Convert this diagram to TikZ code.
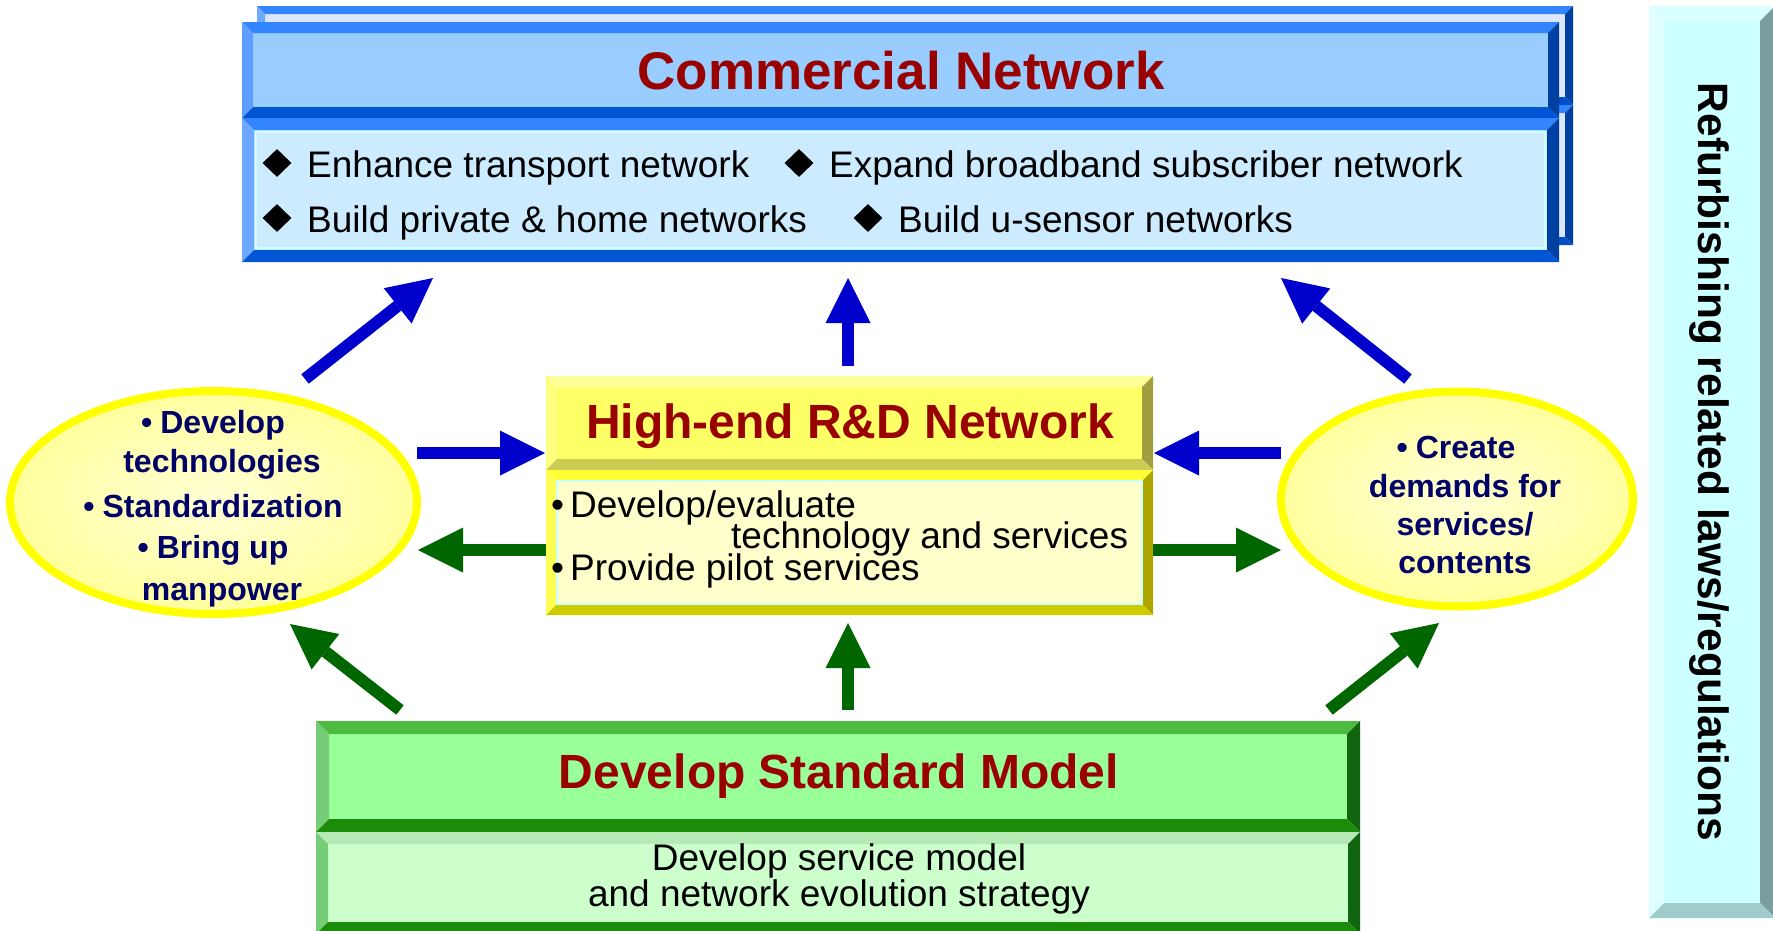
\documentclass[tikz,border=0pt]{standalone}
\usepackage{fontspec}
\setmainfont{Liberation Sans}
\usetikzlibrary{arrows.meta,shapes.geometric}
% blue box (back)
\definecolor{bkF}{HTML}{DDE6FF}\definecolor{bkT}{HTML}{3385FF}\definecolor{bkL}{HTML}{6FA8FF}\definecolor{bkR}{HTML}{0040A0}\definecolor{bkB}{HTML}{0050C8}
% blue header
\definecolor{chF}{HTML}{99CCFF}\definecolor{chT}{HTML}{3385FF}\definecolor{chL}{HTML}{5C9DFF}\definecolor{chR}{HTML}{0040A0}\definecolor{chB}{HTML}{0055D4}
% blue body
\definecolor{cbF}{HTML}{CCEBFF}\definecolor{cbT}{HTML}{3385FF}\definecolor{cbL}{HTML}{6FA8FF}\definecolor{cbR}{HTML}{0040A0}\definecolor{cbB}{HTML}{0055D4}
% yellow header
\definecolor{yhF}{HTML}{FFFF66}\definecolor{yhT}{HTML}{FFFF99}\definecolor{yhL}{HTML}{FFFF80}\definecolor{yhR}{HTML}{A39E3D}\definecolor{yhB}{HTML}{CCCC55}
% yellow body
\definecolor{ybF}{HTML}{FFFFCC}\definecolor{ybT}{HTML}{FFFF33}\definecolor{ybL}{HTML}{FFFF55}\definecolor{ybR}{HTML}{ADA600}\definecolor{ybB}{HTML}{CCCC00}
% green header
\definecolor{ghF}{HTML}{99FF99}\definecolor{ghT}{HTML}{4CBB40}\definecolor{ghL}{HTML}{77CC77}\definecolor{ghR}{HTML}{0F660F}\definecolor{ghB}{HTML}{1A8C0A}
% green body
\definecolor{gbF}{HTML}{CCFFCC}\definecolor{gbT}{HTML}{B5EAB5}\definecolor{gbL}{HTML}{77CC77}\definecolor{gbR}{HTML}{0F660F}\definecolor{gbB}{HTML}{1A8C0A}
% right bar
\definecolor{rbF}{HTML}{CCFFFF}\definecolor{rbT}{HTML}{D9FFFF}\definecolor{rbL}{HTML}{E0FFFF}\definecolor{rbR}{HTML}{7A9E9E}\definecolor{rbB}{HTML}{A0CCCC}
\definecolor{titlered}{HTML}{990000}
\definecolor{navytext}{HTML}{000066}
\definecolor{arrblue}{HTML}{0000CC}
\definecolor{arrgreen}{HTML}{006600}
\definecolor{ellborder}{HTML}{FFFF00}
\definecolor{ellin}{HTML}{FFFFD6}
\definecolor{ellout}{HTML}{FFFF9E}
\definecolor{innerline}{HTML}{CCFFFF}

\newcommand\bevbox[6]{%
  \fill[#6F] ({#1+#5},{#2+#5}) rectangle ({#3-#5},{#4-#5});
  \fill[#6T] (#1,#2) -- (#3,#2) -- ({#3-#5},{#2+#5}) -- ({#1+#5},{#2+#5}) -- cycle;
  \fill[#6L] (#1,#2) -- ({#1+#5},{#2+#5}) -- ({#1+#5},{#4-#5}) -- (#1,#4) -- cycle;
  \fill[#6R] (#3,#2) -- (#3,#4) -- ({#3-#5},{#4-#5}) -- ({#3-#5},{#2+#5}) -- cycle;
  \fill[#6B] (#1,#4) -- (#3,#4) -- ({#3-#5},{#4-#5}) -- ({#1+#5},{#4-#5}) -- cycle;
}

\tikzset{
  txt/.style={inner sep=0pt, anchor=base},
  bodytxt/.style={txt, font=\fontsize{37}{37}\selectfont},
  titletxt/.style={txt, text=titlered},
  elltxt/.style={txt, text=navytext, font=\fontsize{32}{32}\selectfont\bfseries},
  blkarrow/.style={line width=12pt, -{Triangle[length=45pt,width=45pt,line width=0pt]}},
  bluearrow/.style={blkarrow, draw=arrblue, arrblue},
  greenarrow/.style={blkarrow, draw=arrgreen, arrgreen},
  bullet/.style={diamond, fill=black, inner sep=0pt, minimum width=29pt, minimum height=28pt},
  ell/.style={ellipse, line width=8pt, draw=ellborder, shade, inner color=ellin, outer color=ellout, inner sep=0pt},
}

\begin{document}
\begin{tikzpicture}[x=1pt,y=-1pt]
\useasboundingbox (0,0) rectangle (1773,930);

% ---------- Commercial Network box ----------
\bevbox{257}{6}{1573}{105}{8}{bk}
\bevbox{257}{105}{1573}{245}{8}{bk}
\bevbox{242}{22}{1559}{118}{11}{ch}
\bevbox{242}{118}{1559}{262}{12}{cb}
\draw[innerline, line width=2pt] (256,132) rectangle (1545,248);
\node[titletxt, font=\fontsize{53}{53}\selectfont\bfseries] (comm) at (901,89) {Commercial Network};
\node[bullet] (d1) at (277,163) {};
\node[bullet] (d2) at (799,163) {};
\node[bullet] (d3) at (277,218) {};
\node[bullet] (d4) at (868,218) {};
\node[bodytxt, anchor=base west] (t1) at (307,177) {Enhance transport network};
\node[bodytxt, anchor=base west] (t2) at (829,177) {Expand broadband subscriber network};
\node[bodytxt, anchor=base west] (t3) at (307,232) {Build private \& home networks};
\node[bodytxt, anchor=base west] (t4) at (898,232) {Build u-sensor networks};

% ---------- High-end R&D box ----------
\bevbox{546}{376}{1153}{470}{11}{yh}
\bevbox{546}{470}{1153}{615}{10}{yb}
\draw[innerline, line width=1.5pt] (557,481) rectangle (1142,604);
\node[titletxt, font=\fontsize{48}{48}\selectfont\bfseries] (rnd) at (850,438) {High-end R\&D Network};
\node[bodytxt, anchor=base west] (r1) at (551,517) {•\kern6pt Develop/evaluate};
\node[bodytxt, anchor=base west] (r2) at (731,548) {technology and services};
\node[bodytxt, anchor=base west] (r3) at (551,580) {•\kern6pt Provide pilot services};

% ---------- Develop Standard Model box ----------
\bevbox{316}{721}{1360}{832}{13}{gh}
\bevbox{316}{832}{1360}{934}{12}{gb}
\node[titletxt, font=\fontsize{48}{48}\selectfont\bfseries] (dsm) at (839,788) {Develop Standard Model};
\node[bodytxt] (g1) at (839,870) {Develop service model};
\node[bodytxt] (g2) at (839,906) {and network evolution strategy};

% ---------- right bar ----------
\bevbox{1649}{6}{1775}{918}{15}{rb}
\node[txt, rotate=-90, font=\fontsize{42.5}{42.5}\selectfont\bfseries] (laws) at (1698,462) {Refurbishing related laws/regulations};

% ---------- ellipses ----------
\node[ell, minimum width=407pt, minimum height=223pt] (lell) at (213.5,502.5) {};
\node[elltxt] (l1) at (213,433) {•\kern8pt Develop};
\node[elltxt] (l2) at (222,472) {technologies};
\node[elltxt] (l3) at (213,517) {•\kern8pt Standardization};
\node[elltxt] (l4) at (213,558) {•\kern8pt Bring up};
\node[elltxt] (l5) at (222,600) {manpower};

\node[ell, minimum width=352pt, minimum height=215pt] (rell) at (1457,499) {};
\node[elltxt] (e1) at (1456,458) {•\kern8pt Create};
\node[elltxt] (e2) at (1465,497) {demands for};
\node[elltxt] (e3) at (1465,535) {services/};
\node[elltxt] (e4) at (1465,573) {contents};

% ---------- arrow end points ----------
\coordinate (b1s) at (305,379);  \coordinate (b1e) at (433,278);
\coordinate (b2s) at (848,366);  \coordinate (b2e) at (848,278);
\coordinate (b3s) at (1408,379); \coordinate (b3e) at (1281,278);
\coordinate (b4s) at (417,453);  \coordinate (b4e) at (545,453);
\coordinate (b5s) at (1281,453); \coordinate (b5e) at (1154,453);
\coordinate (g1s) at (546,550);  \coordinate (g1e) at (418,550);
\coordinate (g2s) at (1153,550); \coordinate (g2e) at (1281,550);
\coordinate (g3s) at (848,710);  \coordinate (g3e) at (848,623);
\coordinate (g4s) at (400,710);  \coordinate (g4e) at (290,624);
\coordinate (g5s) at (1329,710); \coordinate (g5e) at (1439,623);

\draw[bluearrow] (b1s) -- (b1e);
\draw[bluearrow] (b2s) -- (b2e);
\draw[bluearrow] (b3s) -- (b3e);
\draw[bluearrow] (b4s) -- (b4e);
\draw[bluearrow] (b5s) -- (b5e);
\draw[greenarrow] (g1s) -- (g1e);
\draw[greenarrow] (g2s) -- (g2e);
\draw[greenarrow] (g3s) -- (g3e);
\draw[greenarrow] (g4s) -- (g4e);
\draw[greenarrow] (g5s) -- (g5e);
\end{tikzpicture}
\end{document}
